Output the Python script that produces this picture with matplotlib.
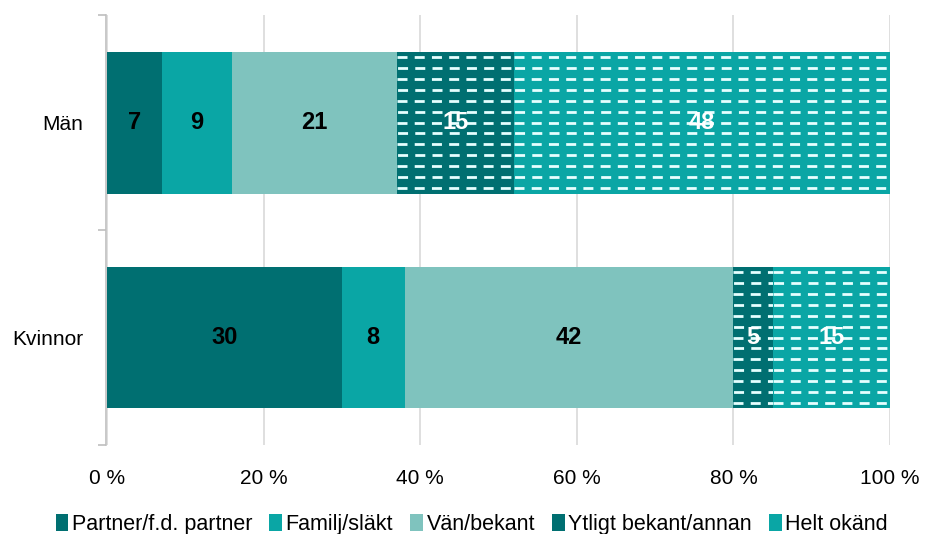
import matplotlib
matplotlib.use("Agg")
import matplotlib.pyplot as plt
from matplotlib.patches import Patch

plt.rcParams.update({
    "font.family": ["Liberation Sans", "DejaVu Sans"],
    "font.size": 11,
    "hatch.color": "white",
})

groups = ["Kvinnor", "Män"]
categories = ["Partner/f.d. partner", "Familj/släkt", "Vän/bekant",
              "Ytligt bekant/annan", "Helt okänd"]
values = {
    "Män":     [7, 9, 21, 15, 48],
    "Kvinnor": [30, 8, 42, 5, 15],
}
colors = ["#006F71", "#0AA6A5", "#7FC3BE", "#006F71", "#0AA6A5"]
hatched = [False, False, False, True, True]
label_colors = ["black", "black", "black", "white", "white"]

fig = plt.figure(figsize=(9.25, 5.34), dpi=100)
ax = fig.add_axes([0.1157, 0.1667, 0.8465, 0.805])

bar_h = 0.66
n_rows = 13
for gi, g in enumerate(groups):
    left = 0
    for ci, v in enumerate(values[g]):
        bar = ax.barh(gi, v, left=left, height=bar_h, color=colors[ci],
                      edgecolor="none", zorder=3)[0]
        if hatched[ci]:
            # white dashed rows, every other row shifted
            y0 = gi - bar_h / 2
            for r in range(n_rows):
                yy = y0 + (r + 0.5) * bar_h / n_rows
                off = 0 if r % 2 == 0 else 6
                ln, = ax.plot([left, left + v], [yy, yy], color="#E6FFFF",
                              lw=2.0, linestyle=(off, (3.6, 2.6)),
                              solid_capstyle="butt", dash_capstyle="butt",
                              zorder=4)
                ln.set_clip_path(bar)
        ax.text(left + v / 2, gi, f"{v}", ha="center", va="center",
                fontsize=17, fontweight="bold", color=label_colors[ci],
                zorder=5)
        left += v

ax.set_xlim(0, 100)
ax.set_ylim(-0.5, 1.5)
ax.set_xticks(range(0, 101, 20))
ax.set_xticklabels([f"{t} %" for t in range(0, 101, 20)])
ax.set_yticks([-0.5, 0.5, 1.5], minor=True)
ax.set_yticks([0, 1])
ax.set_yticklabels(groups)
ax.tick_params(axis="y", which="major", length=0, pad=16, labelsize=15)
ax.tick_params(axis="y", which="minor", length=6, color="#BFBFBF", width=1.2)
ax.tick_params(axis="x", length=0, pad=17, labelsize=15)
ax.grid(axis="x", color="#D9D9D9", lw=1.2, zorder=0)
ax.set_axisbelow(True)
for side in ("top", "right", "bottom"):
    ax.spines[side].set_visible(False)
ax.spines["left"].set_color("#BFBFBF")
ax.spines["left"].set_linewidth(1.2)
ax.spines["left"].set_position(("outward", 1))

handles = []
for ci, c in enumerate(categories):
    handles.append(Patch(facecolor=colors[ci], edgecolor="none",
                         hatch="--" if hatched[ci] else None, label=c))
fig.legend(handles=handles, ncol=5, frameon=False, loc="lower center",
           bbox_to_anchor=(0.51, -0.038), fontsize=15.5, handlelength=0.6,
           handleheight=0.8, handletextpad=0.15, columnspacing=0.8)

fig.savefig("out.png", dpi=100)
